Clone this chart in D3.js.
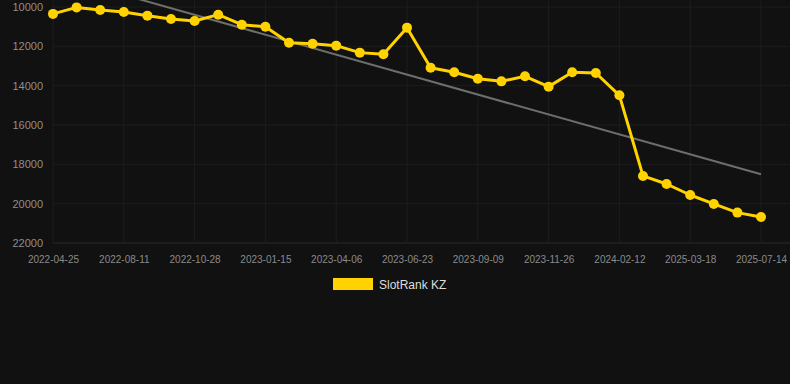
<!DOCTYPE html>
<html>
<head>
<meta charset="utf-8">
<script src="https://cdn.jsdelivr.net/npm/d3@7"></script>
<style>
  html, body { margin: 0; padding: 0; background: #111111; }
  svg { display: block; font-family: Arial, "Liberation Sans", sans-serif; }
</style>
</head>
<body>
<svg id="chart" width="790" height="384"></svg>
<script>
// rank values, one per sample (index 0..30)
var rankValues = [
  10350, 10020, 10150, 10250, 10440, 10610, 10710, 10390, 10900, 11000,
  11815, 11865, 11965, 12320, 12405, 11050, 13085, 13320, 13645, 13780,
  13525, 14050, 13320, 13355, 14490, 18590, 19000, 19560, 20015, 20455,
  20675
];

// labels shown on the x axis, every third sample
var tickLabels = [
  "2022-04-25", "2022-08-11", "2022-10-28", "2023-01-15", "2023-04-06",
  "2023-06-23", "2023-09-09", "2023-11-26", "2024-02-12", "2025-03-18",
  "2025-07-14"
];
var tickStep = 3;

var yTicks = [10000, 12000, 14000, 16000, 18000, 20000, 22000];

// trend line values at first / last sample
var trendValues = [8370, 18505];

var seriesName = "SlotRank KZ";

// plot area
var plotLeft = 53, plotRight = 761, plotTop = 7, plotBottom = 243;

var svg = d3.select("#chart");

var xScale = d3.scaleLinear()
  .domain([0, rankValues.length - 1])
  .range([plotLeft, plotRight]);

// reversed: small rank at the top
var yScale = d3.scaleLinear()
  .domain([10000, 22000])
  .range([plotTop, plotBottom]);

// grid lines
var grid = svg.append("g");
grid.selectAll("line.h")
  .data(yTicks)
  .enter().append("line")
  .attr("x1", plotLeft).attr("x2", 790)
  .attr("y1", function(d) { return yScale(d); })
  .attr("y2", function(d) { return yScale(d); })
  .attr("stroke", function(d) { return d === 22000 ? "#2a2a2a" : "#1d1d1d"; })
  .attr("stroke-width", 1);

grid.selectAll("line.v")
  .data(d3.range(0, rankValues.length, tickStep))
  .enter().append("line")
  .attr("x1", function(d) { return xScale(d); })
  .attr("x2", function(d) { return xScale(d); })
  .attr("y1", 0).attr("y2", plotBottom)
  .attr("stroke", "#1d1d1d")
  .attr("stroke-width", 1);

// y axis
var yAxis = d3.axisLeft(yScale)
  .tickValues(yTicks)
  .tickSize(0)
  .tickPadding(10)
  .tickFormat(function(d) { return d; });

var yAxisG = svg.append("g")
  .attr("transform", "translate(" + plotLeft + ",0)")
  .call(yAxis);
yAxisG.select(".domain").remove();
yAxisG.selectAll("text")
  .attr("fill", "#8e8e8e")
  .style("font-size", "11px");

// x axis
var xAxis = d3.axisBottom(xScale)
  .tickValues(d3.range(0, rankValues.length, tickStep))
  .tickSize(0)
  .tickPadding(13)
  .tickFormat(function(d) { return tickLabels[d / tickStep]; });

var xAxisG = svg.append("g")
  .attr("transform", "translate(0," + plotBottom + ")")
  .call(xAxis);
xAxisG.select(".domain").remove();
xAxisG.selectAll("text")
  .attr("fill", "#8a8a8a")
  .style("font-size", "10px");

// trend line
svg.append("line")
  .attr("x1", xScale(0)).attr("y1", yScale(trendValues[0]))
  .attr("x2", xScale(rankValues.length - 1)).attr("y2", yScale(trendValues[1]))
  .attr("stroke", "#6e6e6e")
  .attr("stroke-width", 2);

// series line
var line = d3.line()
  .x(function(d, i) { return xScale(i); })
  .y(function(d) { return yScale(d); });

svg.append("path")
  .datum(rankValues)
  .attr("d", line)
  .attr("fill", "none")
  .attr("stroke", "#ffd200")
  .attr("stroke-width", 3)
  .attr("stroke-linejoin", "round");

svg.append("g").selectAll("circle")
  .data(rankValues)
  .enter().append("circle")
  .attr("cx", function(d, i) { return xScale(i); })
  .attr("cy", function(d) { return yScale(d); })
  .attr("r", 5)
  .attr("fill", "#ffd200");

// legend
var legend = svg.append("g").attr("transform", "translate(333,278)");
legend.append("rect")
  .attr("width", 40).attr("height", 12)
  .attr("fill", "#ffd200");
legend.append("text")
  .attr("x", 46).attr("y", 10.5)
  .attr("fill", "#dddddd")
  .style("font-size", "12px")
  .text(seriesName);
</script>
</body>
</html>
